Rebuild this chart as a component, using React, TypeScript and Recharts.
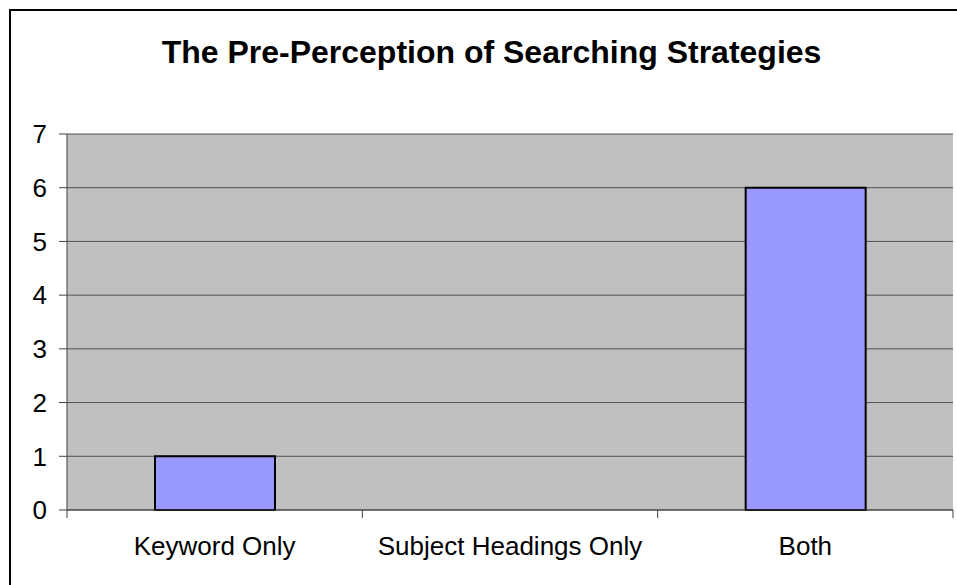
import { Bar, BarChart, CartesianGrid, XAxis, YAxis } from "recharts";

const categories = ["Keyword Only", "Subject Headings Only", "Both"];
const counts = [1, 0, 6];
const yTicks = [0, 1, 2, 3, 4, 5, 6, 7];

const data = categories.map((name, i) => ({ name, count: counts[i] }));

const W = 957;
const H = 585;
const MARGIN = { top: 134, right: 4, bottom: 0, left: 0 };
const Y_AXIS_W = 67;
const X_AXIS_H = 75;
const PLOT_W = W - MARGIN.left - MARGIN.right - Y_AXIS_W;
const BAND = PLOT_W / categories.length;

const FONT = '"Liberation Sans", Arial, Helvetica, sans-serif';
const AXIS = "#404040";
const GRID = "#505050";

// Excel style: tick marks sit on the category boundaries, labels in the middle
function CategoryTick(props: any) {
  const { x, y, payload, index } = props;
  return (
    <g>
      {index === 0 && (
        <line x1={x - BAND / 2} y1={y} x2={x - BAND / 2} y2={y + 8} stroke={AXIS} />
      )}
      <line x1={x + BAND / 2} y1={y} x2={x + BAND / 2} y2={y + 8} stroke={AXIS} />
      <text x={x} y={y + 45} textAnchor="middle" fill="#000" fontSize={26} fontFamily={FONT}>
        {payload.value}
      </text>
    </g>
  );
}

export default function App() {
  return (
    <div
      style={{
        position: "relative",
        width: W,
        height: H,
        background: "#fff",
        overflow: "hidden",
        fontFamily: FONT,
      }}
    >
      <style>{"body{margin:0}"}</style>
      <div
        style={{
          position: "absolute",
          left: 9,
          top: 9,
          width: W + 20,
          height: H + 20,
          border: "2px solid #000",
        }}
      />
      <div
        style={{
          position: "absolute",
          left: 0,
          top: 36,
          width: 983,
          textAlign: "center",
          fontSize: 32,
          lineHeight: "32px",
          fontWeight: "bold",
          color: "#000",
        }}
      >
        The Pre-Perception of Searching Strategies
      </div>
      <div style={{ position: "absolute", left: 0, top: 0 }}>
        <BarChart width={W} height={H} data={data} margin={MARGIN}>
          <CartesianGrid fill="#C0C0C0" stroke={GRID} vertical={false} />
          <XAxis
            dataKey="name"
            height={X_AXIS_H}
            tickSize={0}
            tickMargin={0}
            tickLine={false}
            axisLine={{ stroke: AXIS }}
            tick={<CategoryTick />}
            interval={0}
          />
          <YAxis
            width={Y_AXIS_W}
            domain={[0, 7]}
            ticks={yTicks}
            interval={0}
            tickSize={8}
            tickMargin={12}
            axisLine={{ stroke: AXIS }}
            tickLine={{ stroke: AXIS }}
            tick={{ fill: "#000", fontSize: 26, fontFamily: FONT }}
          />
          <YAxis
            yAxisId="right"
            orientation="right"
            width={0}
            domain={[0, 7]}
            tick={false}
            tickLine={false}
            axisLine={{ stroke: GRID }}
          />
          <Bar
            dataKey="count"
            fill="#9999FF"
            stroke="#000"
            strokeWidth={2}
            barSize={120}
            isAnimationActive={false}
          />
        </BarChart>
      </div>
    </div>
  );
}
